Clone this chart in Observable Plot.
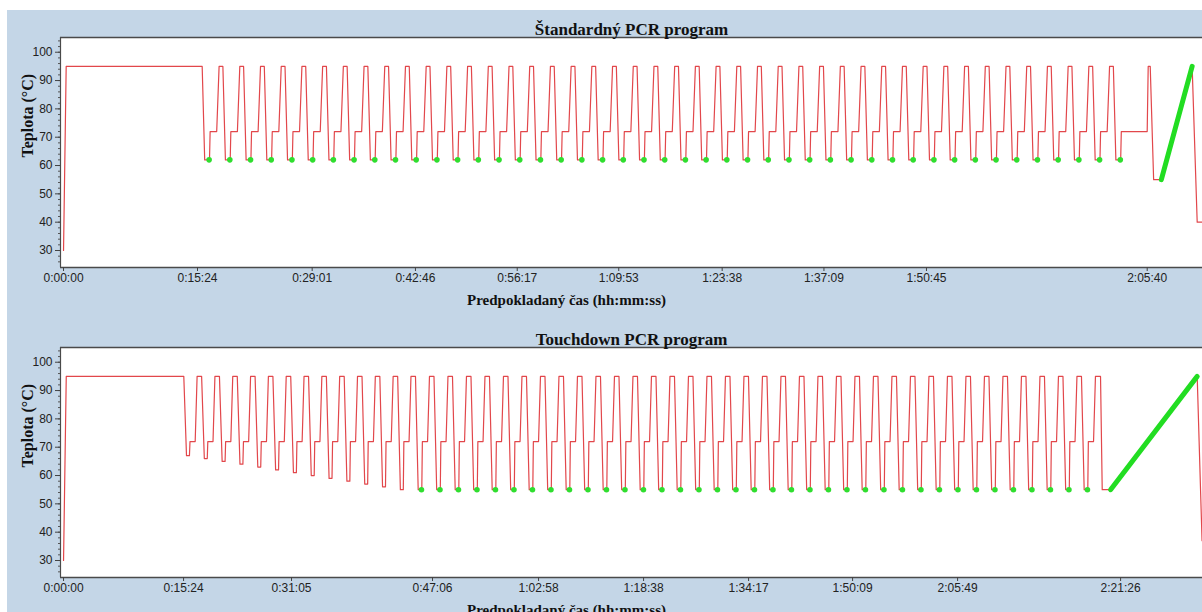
<!DOCTYPE html>
<html>
<head>
<meta charset="utf-8">
<script src="https://cdn.jsdelivr.net/npm/d3@7"></script>
<script src="https://cdn.jsdelivr.net/npm/@observablehq/plot@0.6"></script>
<style>
  html, body { margin: 0; padding: 0; background: #ffffff; }
  #panel { position: absolute; left: 7px; top: 10px; width: 1195px; height: 602px; background: #c4d6e7; overflow: hidden; }
  #panel svg { display: block; }
</style>
</head>
<body>
<div id="panel"></div>
<script>
// ---- Shared axis settings (°C) ----
const tempDomain = [24, 105.2];
const tempTicks = [30, 40, 50, 60, 70, 80, 90, 100];
const tempMinorTicks = d3.range(26, 105, 2);
const xTitle = "Predpokladaný čas (hh:mm:ss)";
const yTitle = "Teplota (°C)";

// ---- Standard PCR program (display time in s, temperature in °C) ----
const stdTitle = "Štandardný PCR program";
const stdStartTemp = 30;
const stdInitialDenat = [95, 21, 1047];          // temp, ramp, hold
const stdCycles = 45;
const stdCycleTemps = [95, 62, 72];              // denaturation, annealing, extension
const stdCycleRamps = [19, 20, 5];
const stdCycleHolds = [30, 38, 52];
const stdFinalExtension = [72, 0, 153];
const stdMeltSteps = [[95, 8, 16], [55, 27, 61]];
const stdMeltRamp = [95, 244];
const stdCooling = [40, 40, 300];
const stdTickPos = [0, 1061, 1969, 2787, 3593, 4397, 5216, 6022, 6834, 8582];
const stdTickLabels = ["0:00:00", "0:15:24", "0:29:01", "0:42:46", "0:56:17", "1:09:53", "1:23:38", "1:37:09", "1:50:45", "2:05:40"];
const stdXDomain = [-24, 9020];

// ---- Touchdown PCR program ----
const tdTitle = "Touchdown PCR program";
const tdStartTemp = 30;
const tdInitialDenat = [95, 24, 1002];
const tdAnnealTemps = [67, 66, 65, 64, 63, 62, 61, 60, 59, 58, 57, 56, 55];
const tdReadCycles = 37;
const tdReadAnneal = 55;
const tdCycleTemps = [95, 72];                   // denaturation, extension
const tdCycleRamps = [17, 24, 5];
const tdCycleHolds = [40, 26, 46];               // anneal hold without reading
const tdReadAnnealHold = 32;
const tdMeltSteps = [[95, 17, 45], [55, 15, 74]];
const tdMeltRamp = [95, 768];
const tdCooling = [37, 43, 300];
const tdTickPos = [0, 1064, 2021, 3271, 4211, 5142, 6073, 6995, 7926, 9371];
const tdTickLabels = ["0:00:00", "0:15:24", "0:31:05", "0:47:06", "1:02:58", "1:18:38", "1:34:17", "1:50:09", "2:05:49", "2:21:26"];
const tdXDomain = [-27, 10097];

// Turn a list of steps into line vertices, plate-read points and the melt ramp
function profile(startTemp, steps) {
  const pts = [{t: 0, temp: startTemp}], reads = [], melt = [];
  let t = 0;
  for (const s of steps) {
    const t0 = t, prev = pts[pts.length - 1].temp;
    t += s.ramp;
    if (s.melt) melt.push({t: t0, temp: prev}, {t, temp: s.temp});
    pts.push({t, temp: s.temp});
    if (s.hold) { t += s.hold; pts.push({t, temp: s.temp}); }
    if (s.read) reads.push({t: t - 3, temp: s.temp});
  }
  return {pts, reads, melt};
}
const step = ([temp, ramp, hold = 0], extra = {}) => ({temp, ramp, hold, ...extra});

// Standard program steps
const stdSteps = [step(stdInitialDenat)];
for (let k = 0; k < stdCycles; k++) {
  stdSteps.push(step([stdCycleTemps[0], k ? stdCycleRamps[0] : 0, stdCycleHolds[0]]));
  stdSteps.push(step([stdCycleTemps[1], stdCycleRamps[1], stdCycleHolds[1]], {read: true}));
  stdSteps.push(step([stdCycleTemps[2], stdCycleRamps[2], stdCycleHolds[2]]));
}
stdSteps.push(step(stdFinalExtension));
stdMeltSteps.forEach(s => stdSteps.push(step(s)));
stdSteps.push(step(stdMeltRamp, {melt: true}));
stdSteps.push(step(stdCooling));

// Touchdown program steps
const tdSteps = [step(tdInitialDenat)];
tdAnnealTemps.forEach((a, k) => {
  tdSteps.push(step([tdCycleTemps[0], k ? tdCycleRamps[0] : 0, tdCycleHolds[0]]));
  tdSteps.push(step([a, tdCycleRamps[1], tdCycleHolds[1]]));
  tdSteps.push(step([tdCycleTemps[1], tdCycleRamps[2], tdCycleHolds[2]]));
});
for (let k = 0; k < tdReadCycles; k++) {
  tdSteps.push(step([tdCycleTemps[0], tdCycleRamps[0], tdCycleHolds[0]]));
  tdSteps.push(step([tdReadAnneal, tdCycleRamps[1], tdReadAnnealHold], {read: true}));
  tdSteps.push(step([tdCycleTemps[1], tdCycleRamps[2], tdCycleHolds[2]]));
}
tdMeltSteps.forEach(s => tdSteps.push(step(s)));
tdSteps.push(step(tdMeltRamp, {melt: true}));
tdSteps.push(step(tdCooling));

function chart(title, startTemp, steps, tickPos, tickLabels, xDomain) {
  const {pts, reads, melt} = profile(startTemp, steps);
  const labelOf = new Map(tickPos.map((p, i) => [p, tickLabels[i]]));
  const serif = "'Liberation Serif', 'Times New Roman', serif";
  return Plot.plot({
    width: 1195,
    height: 310,
    marginLeft: 53,
    marginRight: 0,
    marginTop: 27,
    marginBottom: 53,
    style: {background: "transparent", fontFamily: "'Liberation Sans', Arial, sans-serif", fontSize: "12px", color: "#222"},
    x: {domain: xDomain, axis: null},
    y: {domain: tempDomain, axis: null},
    marks: [
      Plot.frame({fill: "white", stroke: null}),
      Plot.ruleY([tempDomain[1]], {stroke: "#4a4a4a", strokeWidth: 1.5}),
      Plot.ruleY([tempDomain[0]], {stroke: "#4a4a4a", strokeWidth: 1.5}),
      Plot.ruleX([xDomain[0]], {stroke: "#4a4a4a", strokeWidth: 1.2}),
      Plot.axisY(tempMinorTicks, {label: null, tickSize: 2, tickFormat: () => "", stroke: "#555"}),
      Plot.axisY(tempTicks, {label: null, tickSize: 5, tickPadding: 3, stroke: "#444", fill: "#222", fontSize: 12}),
      Plot.axisX(tickPos, {label: null, tickSize: 4, tickPadding: 2, stroke: "#444", fill: "#222", fontSize: 12, tickFormat: d => labelOf.get(d)}),
      Plot.line(pts, {x: "t", y: "temp", stroke: "#e2474b", strokeWidth: 1.2}),
      Plot.line(melt, {x: "t", y: "temp", stroke: "#22dd22", strokeWidth: 5, strokeLinecap: "round"}),
      Plot.dot(reads, {x: "t", y: "temp", r: 2.8, fill: "#2fde2f"}),
      Plot.text([title], {frameAnchor: "top", lineAnchor: "middle", dy: -8, fontFamily: serif, fontWeight: "bold", fontSize: 17, fill: "#111"}),
      Plot.text([xTitle], {frameAnchor: "bottom", lineAnchor: "middle", dx: -65, dy: 33, fontFamily: serif, fontWeight: "bold", fontSize: 15, fill: "#111"}),
      Plot.text([yTitle], {frameAnchor: "left", dx: -33, dy: 5, rotate: -90, fontFamily: serif, fontWeight: "bold", fontSize: 16, fill: "#111"})
    ]
  });
}

const panel = document.getElementById("panel");
panel.append(chart(stdTitle, stdStartTemp, stdSteps, stdTickPos, stdTickLabels, stdXDomain));
panel.append(chart(tdTitle, tdStartTemp, tdSteps, tdTickPos, tdTickLabels, tdXDomain));
</script>
</body>
</html>
